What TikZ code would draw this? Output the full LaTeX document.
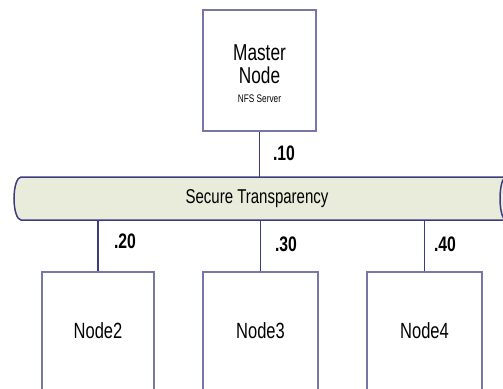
\documentclass[tikz,border=0pt]{standalone}
\usepackage{fontspec}
\setmainfont[FakeStretch=0.75]{Liberation Sans}
\definecolor{linkblue}{RGB}{62,60,128}
\definecolor{busfill}{RGB}{234,236,219}
\begin{document}
\begin{tikzpicture}[
        x=1pt, y=-1pt,
        host/.style={draw=linkblue!70, line width=1.2pt, fill=white, inner sep=0pt, align=center},
        bus/.style={draw=linkblue, line width=1.5pt, fill=busfill},
        bus label/.style={minimum width=498pt, minimum height=43pt, inner sep=0pt, font=\fontsize{20}{22}\selectfont},
        link/.style={draw=linkblue, line width=1.6pt},
        addr/.style={font=\fontsize{21}{23}\selectfont\bfseries}
    ]
	\useasboundingbox (0,0) rectangle (503,388);
	\node[host, minimum width=113pt, minimum height=121pt] (master) at (259.5,70.5) {};
	\node[align=center, font=\fontsize{23}{23}\selectfont] (master_t) at (259.5,74) {Master\\Node\\[-4pt]{\fontsize{11}{12}\selectfont NFS Server}};
	% the bus, open to the right
	\draw[bus] (512,177) -- (21,177) arc[start angle=270, end angle=90, x radius=7, y radius=21.5] -- (512,220);
	\draw[bus] (506,198.5) ellipse[x radius=6, y radius=21.5];
	\node[bus label] (st) at (257,198.5) {Secure Transparency};
	\node[host, minimum width=112pt, minimum height=118pt, font=\fontsize{22}{24}\selectfont] (node_2) at (98,331) {Node2};
	\node[host, minimum width=115pt, minimum height=118pt, font=\fontsize{22}{24}\selectfont] (node_3) at (260.5,331) {Node3};
	\node[host, minimum width=115pt, minimum height=118pt, font=\fontsize{22}{24}\selectfont] (node_4) at (424.5,331) {Node4};
	\draw[link] (master.south) -- (master.south |- st.north);
	\draw[link] (node_2.north) -- (node_2.north |- st.south);
	\draw[link] (node_3.north) -- (node_3.north |- st.south);
	\draw[link] (node_4.north) -- (node_4.north |- st.south);
	\node[addr] (ip_10) at (284,153) {.10};
	\node[addr] (ip_20) at (125,241) {.20};
	\node[addr] (ip_30) at (286,244) {.30};
	\node[addr] (ip_40) at (445,244) {.40};
    \end{tikzpicture}
\end{document}
